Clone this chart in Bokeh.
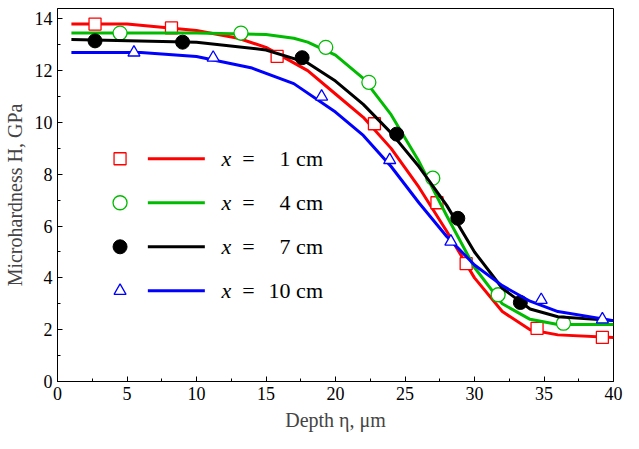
from bokeh.plotting import figure
from bokeh.models import Range1d, FixedTicker
from bokeh.core.properties import value
from bokeh.embed import file_html
from bokeh.resources import INLINE

labels = ["1 cm", "4 cm", "7 cm", "10 cm"]
colors = ["#ff0000", "#00bb00", "#000000", "#0000ff"]

curve_x = [[1,5,10,13,15,18,20,22,24,26,28,30,32,34,36,40],
           [1,10,15,17,18,20,22,24,26,28,30,32,34,36,40],
           [1,10,15,18,20,22,24,26,28,30,32,34,36,40],
           [1,6,10,14,17,20,22,24,26,28,30,32,34,36,40]]
curve_y = [[13.8,13.8,13.55,13.25,12.9,12.0,11.1,10.2,9.0,7.5,5.8,4.0,2.7,2.0,1.8,1.7],
           [13.45,13.45,13.4,13.25,13.1,12.6,11.7,10.3,8.5,6.4,4.4,3.0,2.4,2.2,2.2],
           [13.2,13.1,12.8,12.3,11.6,10.7,9.6,8.3,6.8,5.0,3.6,2.8,2.5,2.35],
           [12.7,12.7,12.55,12.1,11.5,10.4,9.5,8.3,6.9,5.6,4.5,3.7,3.1,2.7,2.35]]
mark_x = [[2.7,8.2,15.8,22.8,27.3,29.4,34.5,39.2],
          [4.5,13.2,19.3,22.4,27.0,31.7,36.4],
          [2.7,9.0,17.6,24.4,28.8,33.3],
          [5.5,11.2,19.0,23.9,28.3,34.8,39.2]]
mark_y = [[13.8,13.65,12.55,9.95,6.9,4.55,2.05,1.7],
          [13.45,13.45,12.9,11.55,7.85,3.35,2.25],
          [13.15,13.1,12.5,9.55,6.3,3.05],
          [12.7,12.5,11.0,8.55,5.4,3.15,2.4]]
legend_y = [8.6, 6.9, 5.2, 3.5]

F = "Liberation Serif"
p = figure(width=623, height=433, output_backend="svg", toolbar_location=None,
           x_range=Range1d(0, 40), y_range=Range1d(0, 14.4),
           min_border_left=57, min_border_right=10, min_border_top=8, min_border_bottom=50)
p.grid.visible = False
p.outline_line_color = "black"
p.outline_line_width = 1
p.xaxis.ticker = FixedTicker(ticks=list(range(0, 41, 5)), minor_ticks=[x + 2.5 for x in range(0, 40, 5)])
p.yaxis.ticker = FixedTicker(ticks=list(range(0, 15, 2)), minor_ticks=[y + 1 for y in range(0, 14, 2)])
for ax in (p.xaxis, p.yaxis):
    ax.major_label_text_font = F
    ax.major_label_text_font_size = "18px"
    ax.major_label_text_color = "black"
    ax.axis_label_text_font = F
    ax.axis_label_text_font_size = "20px"
    ax.axis_label_text_font_style = "normal"
    ax.axis_label_standoff = 6
    ax.major_tick_in = 5
    ax.major_tick_out = 0
    ax.minor_tick_in = 3
    ax.minor_tick_out = 0
p.xaxis.axis_label = "Depth η, μm"
p.yaxis.axis_label = "Microhardness H, GPa"

for i in range(4):
    c = colors[i]
    p.line(curve_x[i], curve_y[i], line_color=c, line_width=3)
    if i == 0:
        kw = dict(marker="square", size=12, fill_color="white", line_color=c, line_width=1.3)
    elif i == 1:
        kw = dict(marker="circle", size=14, fill_color="white", line_color=c, line_width=1.3)
    elif i == 2:
        kw = dict(marker="circle", size=14, fill_color="black", line_color=c)
    else:
        kw = dict(marker="triangle", size=12, fill_color="white", line_color=c, line_width=1.3)
    p.scatter(mark_x[i], mark_y[i], **kw)
    p.scatter([4.5], [legend_y[i]], **kw)
    p.line([6.5, 10.6], [legend_y[i], legend_y[i]], line_color=c, line_width=3)
    p.text([11.8], [legend_y[i]], text=["x"], text_font=value(F), text_font_style="italic",
           text_font_size="22px", text_baseline="middle")
    p.text([13.3], [legend_y[i]], text=["="], text_font=value(F),
           text_font_size="22px", text_baseline="middle")
    p.text([19.1], [legend_y[i]], text=[labels[i]], text_font=value(F),
           text_font_size="22px", text_baseline="middle", text_align="right")

open("out.html", "w").write(file_html(p, INLINE))
